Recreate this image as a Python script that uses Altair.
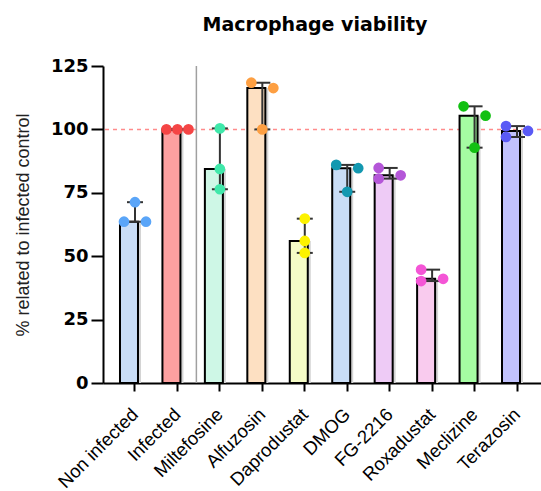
import altair as alt
import pandas as pd

# ---- data ----
groups = ["Non infected", "Infected", "Miltefosine", "Alfuzosin", "Daprodustat",
          "DMOG", "FG-2216", "Roxadustat", "Meclizine", "Terazosin"]

# three replicate values per group (% related to infected control)
rep_values = [
    [63.6, 71.3, 63.6],
    [100.0, 100.0, 100.0],
    [100.4, 84.4, 76.4],
    [118.4, 100.0, 116.3],
    [64.8, 56.0, 51.3],
    [86.0, 75.4, 84.7],
    [84.8, 80.6, 81.9],
    [44.7, 40.2, 41.1],
    [109.1, 92.8, 105.4],
    [101.3, 97.0, 99.4],
]
# horizontal slot of each replicate dot (-1 left, 0 centre, 1 right)
rep_slots = [
    [-1, 0, 1],
    [-1, 0, 1],
    [0, 0, 0],
    [-1, 0, 1],
    [0, 0, 0],
    [-1, 0, 1],
    [-1, -1, 1],
    [-1, -1, 1],
    [-1, 0, 1],
    [-1, -1, 1],
]
y_ticks = [0, 25, 50, 75, 100, 125]
reference_value = [100]
separator_before = ["Miltefosine"]

bar_colors = ["#c9ddf6", "#fda0a0", "#cef7e6", "#fde0c2", "#f5fcc6",
              "#c9ddf6", "#eecbf6", "#f9cbee", "#a5fca2", "#c1c2fc"]
point_colors = ["#5aa5f8", "#f54545", "#40e8aa", "#fd9f42", "#fdf200",
                "#1398b0", "#b456d8", "#f455d6", "#12c012", "#5a5af5"]

rows = []
for g, vals, slots in zip(groups, rep_values, rep_slots):
    for v, s in zip(vals, slots):
        rows.append({"group": g, "value": v, "slot": s})
df = pd.DataFrame(rows)

W, H = 438, 317

xscale = alt.Scale(domain=groups, paddingInner=0.293, paddingOuter=0.306, align=0.654)
yscale = alt.Scale(domain=[0, 125], nice=False)

x_enc = alt.X("group:N", sort=groups, scale=xscale, title=None,
              axis=alt.Axis(labelAngle=-45, labelAlign="right", labelBaseline="middle",
                            labelFont="Liberation Sans", labelFontSize=18.5,
                            labelColor="black", labelPadding=20,
                            domainColor="black", domainWidth=2,
                            tickColor="black", tickWidth=2, tickSize=8))
y_axis = alt.Axis(values=y_ticks, title="% related to infected control",
                  titleFont="Liberation Sans", titleFontSize=18,
                  titleFontWeight="normal", titleColor="#222222", titlePadding=18,
                  labelFont="DejaVu Sans", labelFontWeight="bold", labelFontSize=18,
                  labelColor="black", labelPadding=3,
                  domainColor="black", domainWidth=2,
                  tickColor="black", tickWidth=2, tickSize=12, grid=False)

base = alt.Chart(df)

ref = alt.Chart(pd.DataFrame({"ref": reference_value})).mark_rule(
    color="#ff8c8c", strokeDash=[4, 4], strokeWidth=1.5
).encode(y=alt.Y("ref:Q", scale=yscale, axis=y_axis))

shadow = base.mark_bar(color="#d4d4d4", xOffset=3).encode(
    x=x_enc, y=alt.Y("median(value):Q", scale=yscale, axis=y_axis))

bars = base.mark_bar(stroke="black", strokeWidth=2).encode(
    x=x_enc,
    y=alt.Y("median(value):Q", scale=yscale, axis=y_axis),
    color=alt.Color("group:N", scale=alt.Scale(domain=groups, range=bar_colors), legend=None),
)

err = base.mark_rule(color="#333333", strokeWidth=2).encode(
    x=x_enc, y=alt.Y("min(value):Q", scale=yscale, axis=y_axis), y2="max(value):Q")
cap_lo = base.mark_tick(color="#333333", thickness=2, size=16).encode(
    x=x_enc, y=alt.Y("min(value):Q", scale=yscale, axis=y_axis))
cap_hi = base.mark_tick(color="#333333", thickness=2, size=16).encode(
    x=x_enc, y=alt.Y("max(value):Q", scale=yscale, axis=y_axis))

points = base.mark_circle(size=115, opacity=1).encode(
    x=x_enc,
    xOffset=alt.XOffset("slot:Q", scale=alt.Scale(domain=[-1, 1], range=[4, 26])),
    y=alt.Y("value:Q", scale=yscale, axis=y_axis),
    color=alt.Color("group:N", scale=alt.Scale(domain=groups, range=point_colors), legend=None),
)

sep = alt.Chart(pd.DataFrame({"group": separator_before})).mark_rule(
    color="#a0a0a0", strokeWidth=1.5, xOffset=-8.5
).encode(x=alt.X("group:N", sort=groups, scale=xscale, bandPosition=0),
         y=alt.value(0), y2=alt.value(H))

chart = alt.layer(ref, shadow, bars, err, cap_lo, cap_hi, points, sep).resolve_scale(
    color="independent"
).properties(
    width=W, height=H,
    title=alt.TitleParams("Macrophage viability", font="DejaVu Sans", fontSize=19,
                          fontWeight="bold", color="black", anchor="middle",
                          frame="group", offset=22, dx=-7),
    autosize=alt.AutoSizeParams(type="none"),
    padding={"left": 103, "top": 66, "right": 0, "bottom": 108},
).configure_view(stroke=None)

chart.save("out.html", embed_options={"renderer": "svg", "actions": False})
